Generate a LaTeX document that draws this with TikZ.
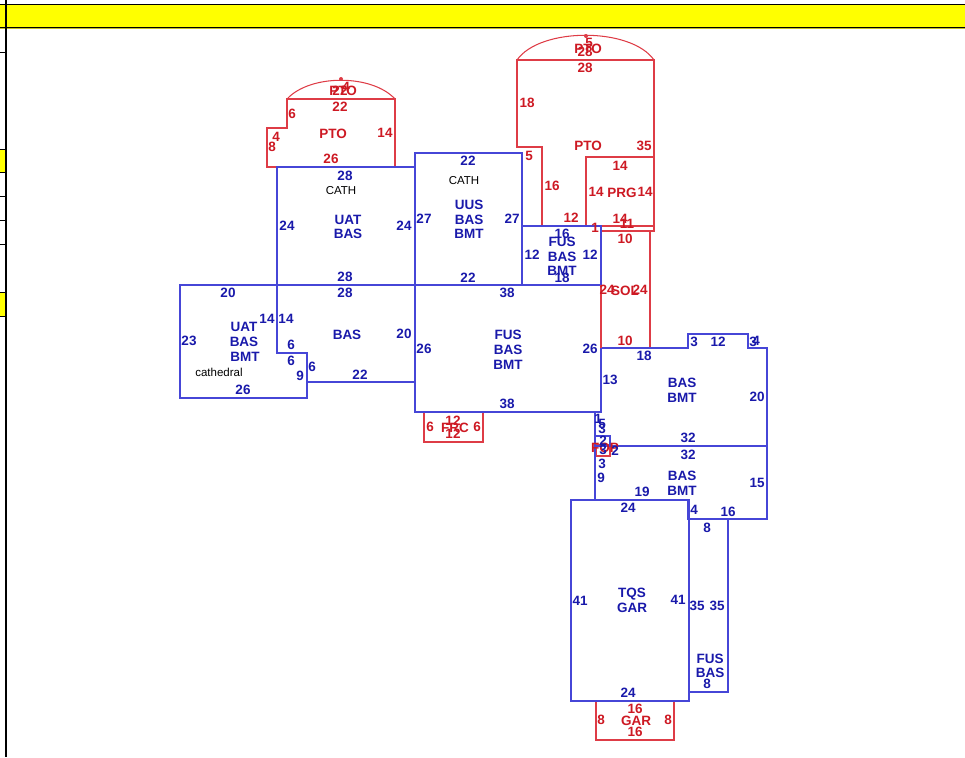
\documentclass[tikz,border=0pt]{standalone}
\usepackage{fontspec}
\setmainfont{Liberation Sans}
\definecolor{wallblue}{RGB}{70,70,215}
\definecolor{wallred}{RGB}{222,60,70}
\definecolor{txtblue}{RGB}{25,25,170}
\definecolor{txtred}{RGB}{205,25,35}
\definecolor{bandyellow}{RGB}{255,255,0}
\definecolor{bandedge}{RGB}{190,190,40}
\begin{document}
\begin{tikzpicture}[x=1pt,y=-1pt,
        bw/.style={draw=wallblue,line width=1.05pt},
        rw/.style={draw=wallred,line width=1.05pt},
        bt/.style={text=txtblue,font=\bfseries\fontsize{13.5}{13.5}\selectfont,inner sep=0pt},
        rt/.style={text=txtred,font=\bfseries\fontsize{13.5}{13.5}\selectfont,inner sep=0pt},
        kt/.style={text=black,font=\fontsize{11.5}{12}\selectfont,inner sep=0pt}]
        \useasboundingbox (0,0) rectangle (965,757);

        % sheet frame
        \fill[bandyellow] (0,4) rectangle (965,28);
        \fill[bandyellow] (0,149) rectangle (6,172);
        \fill[bandyellow] (0,292) rectangle (6,316);
        \draw[bandedge,line width=1pt] (0,28.7) -- (965,28.7);
        \draw[line width=1pt] (0,4.5) -- (965,4.5);
        \draw[line width=1pt] (0,27.5) -- (965,27.5);
        \draw[line width=1.4pt] (6,0) -- (6,757);
        \draw[line width=.9pt] (0,52) -- (6,52);
        \draw[line width=.9pt] (0,149) -- (6,149);
        \draw[line width=.9pt] (0,172) -- (6,172);
        \draw[line width=.9pt] (0,196) -- (6,196);
        \draw[line width=.9pt] (0,220) -- (6,220);
        \draw[line width=.9pt] (0,244) -- (6,244);
        \draw[line width=.9pt] (0,292) -- (6,292);
        \draw[line width=.9pt] (0,316) -- (6,316);

        % red areas
        \draw[rw] (267,167) -- (267,128) -- (287,128) -- (287,99) -- (395,99) -- (395,167) -- cycle;
        \draw[rw] (287,99) .. controls (310,74) and (372,74) .. (395,99);
        \fill[wallred] (341,79) circle (2);
        \draw[rw] (517,60) -- (654,60) -- (654,231) -- (601,231) -- (601,226) -- (542,226) -- (542,147) -- (517,147) -- cycle;
        \draw[rw] (517,60) .. controls (540,27) and (631,27) .. (654,60);
        \fill[wallred] (586,36) circle (2);
        \draw[rw] (586,226) -- (586,157) -- (654,157) -- (654,226) -- cycle;
        \draw[rw] (601,231) rectangle (650,348);
        \draw[rw] (424,412) rectangle (483,442);
        \draw[rw] (596,445) rectangle (610,456);
        \draw[rw] (596,701) rectangle (674,740);

        % blue areas
        \draw[bw] (277,167) rectangle (415,285);
        \draw[bw] (415,153) rectangle (522,285);
        \draw[bw] (522,226) rectangle (601,285);
        \draw[bw] (415,285) rectangle (601,412);
        \draw[bw] (180,285) -- (277,285) -- (277,353) -- (307,353) -- (307,398) -- (180,398) -- cycle;
        \draw[bw] (277,285) -- (415,285) -- (415,382) -- (307,382);
        \draw[bw] (601,348) -- (688,348) -- (688,334) -- (748,334) -- (748,348) -- (767,348) -- (767,519) -- (688,519) -- (688,500) -- (595,500) -- (595,412) -- (601,412);
        \draw[bw] (610,446) -- (767,446);
        \draw[bw] (595,436) rectangle (610,446);
        \draw[bw] (571,500) rectangle (689,701);
        \draw[bw] (689,519) rectangle (728,692);
        \draw[rw] (601,285) -- (601,348);

        % left porch
        \node[rt] (pzA) at (343,91) {PTO};
        \node[rt] (pzB) at (340,91) {22};
        \node[rt] (pzC) at (346,87) {4};
        \node[rt] (pzD) at (340,107) {22};
        \node[rt] (pzE) at (292,114) {6};
        \node[rt] (pzF) at (276,137) {4};
        \node[rt] (pzG) at (272,147) {8};
        \node[rt] (pzH) at (333,134) {PTO};
        \node[rt] (pzI) at (385,133) {14};
        \node[rt] (pzJ) at (331,159) {26};

        % back porch
        \node[rt] (bkA) at (588,49) {PTO};
        \node[rt] (bkB) at (585,52) {28};
        \node[rt] (bkC) at (589,43) {5};
        \node[rt] (bkD) at (585,68) {28};
        \node[rt] (bkE) at (527,103) {18};
        \node[rt] (bkF) at (529,156) {5};
        \node[rt] (bkG) at (588,146) {PTO};
        \node[rt] (bkH) at (644,146) {35};
        \node[rt] (bkI) at (552,186) {16};
        \node[rt] (bkJ) at (571,218) {12};
        \node[rt] (bkK) at (595,228) {1};

        % garage, stoop and the rest in red
        \node[rt] (prA) at (620,166) {14};
        \node[rt] (prB) at (596,192) {14};
        \node[rt] (prC) at (622,193) {PRG};
        \node[rt] (prD) at (645,192) {14};
        \node[rt] (prE) at (620,219) {14};
        \node[rt] (prF) at (627,224) {11};
        \node[rt] (soA) at (625,239) {10};
        \node[rt] (soB) at (607,290) {24};
        \node[rt] (soC) at (625,291) {SOL};
        \node[rt] (soD) at (640,290) {24};
        \node[rt] (soE) at (625,341) {10};
        \node[rt] (frA) at (430,427) {6};
        \node[rt] (frB) at (453,421) {12};
        \node[rt] (frC) at (455,428) {FRC};
        \node[rt] (frD) at (453,434) {12};
        \node[rt] (frE) at (477,427) {6};
        \node[rt] (fpA) at (605,448) {FOP};
        \node[rt] (grA) at (635,709) {16};
        \node[rt] (grB) at (636,721) {GAR};
        \node[rt] (grC) at (635,732) {16};
        \node[rt] (grD) at (601,720) {8};
        \node[rt] (grE) at (668,720) {8};

        % upper floor
        \node[bt] (uaA) at (345,176) {28};
        \node[kt] (uaB) at (341,191) {CATH};
        \node[bt] (uaC) at (348,220) {UAT};
        \node[bt] (uaD) at (348,234) {BAS};
        \node[bt] (uaE) at (287,226) {24};
        \node[bt] (uaF) at (404,226) {24};
        \node[bt] (uaG) at (345,277) {28};
        \node[bt] (uuA) at (468,161) {22};
        \node[kt] (uuB) at (464,181) {CATH};
        \node[bt] (uuC) at (469,205) {UUS};
        \node[bt] (uuD) at (469,220) {BAS};
        \node[bt] (uuE) at (469,234) {BMT};
        \node[bt] (uuF) at (424,219) {27};
        \node[bt] (uuG) at (512,219) {27};
        \node[bt] (uuH) at (468,278) {22};
        \node[bt] (fuA) at (562,234) {16};
        \node[bt] (fuB) at (562,242) {FUS};
        \node[bt] (fuC) at (562,257) {BAS};
        \node[bt] (fuD) at (562,271) {BMT};
        \node[bt] (fuE) at (562,278) {18};
        \node[bt] (fuF) at (532,255) {12};
        \node[bt] (fuG) at (590,255) {12};

        % main floor
        \node[bt] (baA) at (345,293) {28};
        \node[bt] (baB) at (286,319) {14};
        \node[bt] (baC) at (347,335) {BAS};
        \node[bt] (baD) at (404,334) {20};
        \node[bt] (baE) at (291,345) {6};
        \node[bt] (baF) at (291,361) {6};
        \node[bt] (baG) at (312,367) {6};
        \node[bt] (baH) at (300,376) {9};
        \node[bt] (baI) at (360,375) {22};
        \node[bt] (ulA) at (228,293) {20};
        \node[bt] (ulB) at (267,319) {14};
        \node[bt] (ulC) at (244,327) {UAT};
        \node[bt] (ulD) at (244,342) {BAS};
        \node[bt] (ulE) at (245,357) {BMT};
        \node[bt] (ulF) at (189,341) {23};
        \node[kt] (ulG) at (219,372) {cathedral};
        \node[bt] (ulH) at (243,390) {26};
        \node[bt] (fbA) at (507,293) {38};
        \node[bt] (fbB) at (508,335) {FUS};
        \node[bt] (fbC) at (508,350) {BAS};
        \node[bt] (fbD) at (508,365) {BMT};
        \node[bt] (fbE) at (424,349) {26};
        \node[bt] (fbF) at (590,349) {26};
        \node[bt] (fbG) at (507,404) {38};

        % right wing
        \node[bt] (rgA) at (644,356) {18};
        \node[bt] (rgB) at (694,342) {3};
        \node[bt] (rgC) at (718,342) {12};
        \node[bt] (rgD) at (753,342) {3};
        \node[bt] (rgE) at (756,341) {4};
        \node[bt] (rgF) at (610,380) {13};
        \node[bt] (rgG) at (682,383) {BAS};
        \node[bt] (rgH) at (682,398) {BMT};
        \node[bt] (rgI) at (757,397) {20};
        \node[bt] (rgJ) at (688,438) {32};
        \node[bt] (rgK) at (688,455) {32};
        \node[bt] (rgL) at (682,476) {BAS};
        \node[bt] (rgM) at (682,491) {BMT};
        \node[bt] (rgN) at (757,483) {15};
        \node[bt] (rgO) at (642,492) {19};
        \node[bt] (rgP) at (694,510) {4};
        \node[bt] (rgQ) at (728,512) {16};
        \node[bt] (smA) at (598,419) {1};
        \node[bt] (smB) at (602,424) {5};
        \node[bt] (smC) at (602,429) {3};
        \node[bt] (smD) at (603,441) {2};
        \node[bt] (smE) at (603,450) {3};
        \node[bt] (smF) at (615,451) {2};
        \node[bt] (smG) at (602,464) {3};
        \node[bt] (smH) at (601,478) {9};

        % garage block
        \node[bt] (tqA) at (628,508) {24};
        \node[bt] (tqB) at (632,594) {TQS};
        \node[bt] (tqC) at (632,608) {GAR};
        \node[bt] (tqD) at (580,601) {41};
        \node[bt] (tqE) at (678,600) {41};
        \node[bt] (tqF) at (628,693) {24};
        \node[bt] (nrA) at (707,528) {8};
        \node[bt] (nrB) at (697,606) {35};
        \node[bt] (nrC) at (717,606) {35};
        \node[bt] (nrD) at (710,659) {FUS};
        \node[bt] (nrE) at (710,673) {BAS};
        \node[bt] (nrF) at (707,684) {8};
\end{tikzpicture}
\end{document}
